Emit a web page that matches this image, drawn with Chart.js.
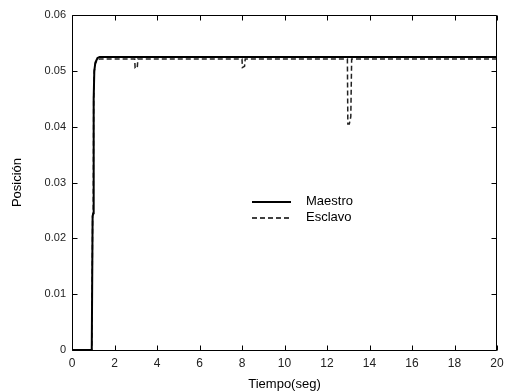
<!DOCTYPE html>
<html>
<head>
<meta charset="utf-8">
<script src="https://cdn.jsdelivr.net/npm/chart.js@4/dist/chart.umd.min.js"></script>
</head>
<body style="margin:0">
<canvas id="posChart" width="512" height="392"></canvas>
<script>
// respuesta de posicion maestro / esclavo
const maestroT = [0, 0.93, 0.97, 1.0, 1.02, 1.05, 1.1, 1.2, 1.3, 20];
const maestroY = [0, 0, 0.024, 0.0245, 0.045, 0.050, 0.0515, 0.0523, 0.0525, 0.0525];

const esclavoT = [0, 0.93, 0.97, 1.0, 1.02, 1.05, 1.1, 1.2, 1.3,
  2.95, 2.97, 3.07, 3.1,
  8.0, 8.02, 8.12, 8.15,
  12.96, 12.98, 13.05, 13.12, 13.16, 20];
const esclavoY = [0, 0, 0.024, 0.0245, 0.045, 0.050, 0.0513, 0.052, 0.0521,
  0.0521, 0.0505, 0.0505, 0.0521,
  0.0521, 0.0506, 0.0508, 0.0521,
  0.0521, 0.0405, 0.0405, 0.0418, 0.0521, 0.0521];

const xTicks = [0, 2, 4, 6, 8, 10, 12, 14, 16, 18, 20];
const yTicks = [0, 0.01, 0.02, 0.03, 0.04, 0.05, 0.06];
const seriesNames = ['Maestro', 'Esclavo'];

const fontFam = 'Arial, "Liberation Sans", sans-serif';

// marco, marcas hacia dentro y leyenda
const boxPlugin = {
  id: 'boxPlugin',
  afterDraw(chart) {
    const ctx = chart.ctx;
    const a = chart.chartArea;
    const xs = chart.scales.x, ys = chart.scales.y;
    const L = Math.round(a.left) + 0.5, R = Math.round(a.right) - 0.5;
    const T = Math.round(a.top) + 0.5, B = Math.round(a.bottom) + 0.5;
    const len = 5;
    ctx.save();
    ctx.strokeStyle = '#000';
    ctx.lineWidth = 1;
    ctx.beginPath();
    ctx.moveTo(L, T); ctx.lineTo(R, T); ctx.lineTo(R, B); ctx.lineTo(L, B); ctx.closePath();
    ctx.stroke();
    ctx.beginPath();
    xTicks.forEach(v => {
      const px = Math.round(xs.getPixelForValue(v)) + 0.5;
      ctx.moveTo(px, B); ctx.lineTo(px, B - len);
      ctx.moveTo(px, T); ctx.lineTo(px, T + len);
    });
    yTicks.forEach(v => {
      const py = Math.round(ys.getPixelForValue(v)) + 0.5;
      ctx.moveTo(L, py); ctx.lineTo(L + len, py);
      ctx.moveTo(R, py); ctx.lineTo(R - len, py);
    });
    ctx.stroke();

    const lx = 252, ly = 202;
    ctx.font = '13px ' + fontFam;
    ctx.fillStyle = '#000';
    ctx.textBaseline = 'middle';
    ctx.textAlign = 'left';
    chart.data.datasets.forEach((ds, i) => {
      const y = ly + i * 16;
      ctx.beginPath();
      ctx.lineWidth = ds.borderWidth;
      ctx.setLineDash(ds.borderDash || []);
      ctx.moveTo(lx, y); ctx.lineTo(lx + 39, y);
      ctx.stroke();
      ctx.setLineDash([]);
      ctx.fillText(seriesNames[i], lx + 54, y - 1);
    });
    ctx.restore();
  }
};

new Chart(document.getElementById('posChart'), {
  type: 'scatter',
  data: {
    datasets: [
      {
        label: seriesNames[0],
        data: maestroT.map((x, i) => ({ x, y: maestroY[i] })),
        showLine: true,
        borderColor: '#000',
        borderWidth: 2,
        pointRadius: 0
      },
      {
        label: seriesNames[1],
        data: esclavoT.map((x, i) => ({ x, y: esclavoY[i] })),
        showLine: true,
        borderColor: '#222',
        borderWidth: 1.5,
        borderDash: [5, 3],
        pointRadius: 0
      }
    ]
  },
  options: {
    responsive: false,
    animation: false,
    layout: { padding: { top: 15, right: 15, left: 0, bottom: 0 } },
    plugins: { legend: { display: false }, tooltip: { enabled: false } },
    scales: {
      x: {
        type: 'linear', min: 0, max: 20,
        afterFit(s) { s.height = 42; },
        afterBuildTicks(s) { s.ticks = xTicks.map(v => ({ value: v })); },
        grid: { display: false, drawTicks: false },
        border: { display: false },
        ticks: { color: '#222', font: { family: fontFam, size: 12 }, padding: 6, maxRotation: 0 },
        title: { display: true, text: 'Tiempo(seg)', color: '#000', font: { family: fontFam, size: 13 }, padding: { top: 2, bottom: 0 } }
      },
      y: {
        type: 'linear', min: 0, max: 0.06,
        afterFit(s) { s.width = 72; },
        afterBuildTicks(s) { s.ticks = yTicks.map(v => ({ value: v })); },
        grid: { display: false, drawTicks: false },
        border: { display: false },
        ticks: {
          color: '#222', font: { family: fontFam, size: 11 }, padding: 6,
          callback: v => v === 0 ? '0' : v.toFixed(2)
        },
        title: { display: true, text: 'Posición', color: '#000', font: { family: fontFam, size: 13 }, padding: { top: 10, bottom: 0 } }
      }
    }
  },
  plugins: [boxPlugin]
});
</script>
</body>
</html>
